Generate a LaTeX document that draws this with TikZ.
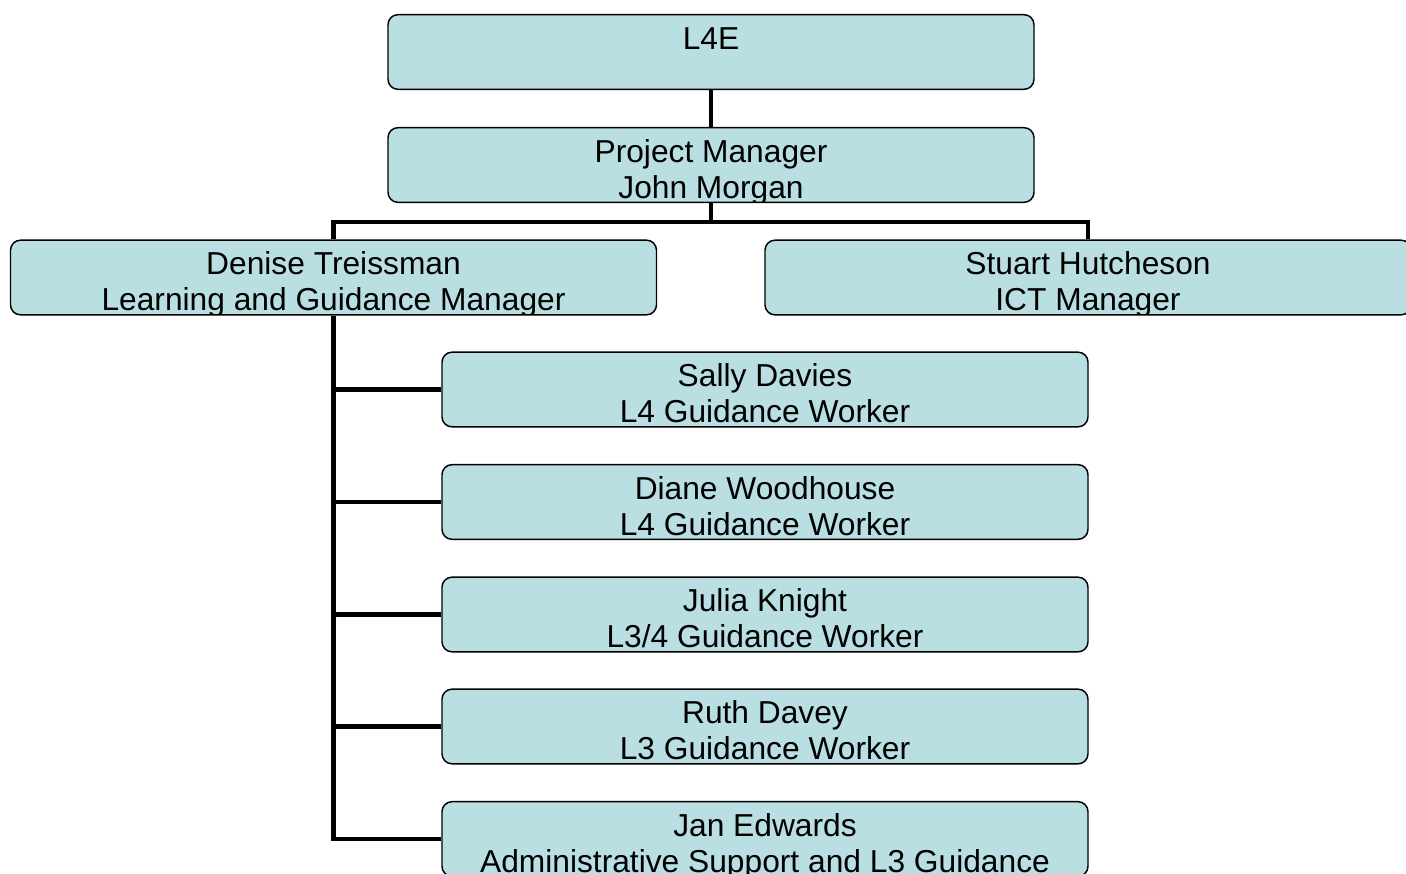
\documentclass[tikz,border=0pt]{standalone}
\usepackage{fontspec}
\setmainfont{Liberation Sans}
\usepackage{tikz}

\definecolor{boxblue}{RGB}{186,223,227}
\tikzset{
	orgbox/.style={shape=rectangle, rounded corners=7.5pt, draw=black, line width=1.1pt, fill=boxblue,
		minimum width=484.5pt, minimum height=56pt, inner sep=0pt},
	orglabel/.style={anchor=base, inner sep=0pt, font=\fontsize{23.8pt}{27pt}\selectfont},
	orgtext/.style 2 args={path picture={
		\node[orglabel] at ([yshift=-25.9pt]path picture bounding box.north) {#1};
		\node[orglabel] at ([yshift=-52.9pt]path picture bounding box.north) {#2};}},
	link/.style={line width=3.4pt}
}

\begin{document}
\begin{tikzpicture}[x=0.75pt, y=-0.75pt]
	\path[use as bounding box, fill=white] (0,0) rectangle (1406,874);
	\clip (0,0) rectangle (1406,874);

	\node[orgbox, orgtext={L4E}{}] (l4e) at (711, 52) {};
	\node[orgbox, orgtext={Project Manager}{John Morgan}] (pm) at (711, 165) {};
	\node[orgbox, orgtext={Denise Treissman}{Learning and Guidance Manager}] (denise) at (333.5, 277.5) {};
	\node[orgbox, orgtext={Stuart Hutcheson}{ICT Manager}] (stuart) at (1088, 277.5) {};
	\node[orgbox, orgtext={Sally Davies}{L4 Guidance Worker}] (sally) at (765, 389.5) {};
	\node[orgbox, orgtext={Diane Woodhouse}{L4 Guidance Worker}] (diane) at (765, 502) {};
	\node[orgbox, orgtext={Julia Knight}{L3/4 Guidance Worker}] (julia) at (765, 614.5) {};
	\node[orgbox, orgtext={Ruth Davey}{L3 Guidance Worker}] (ruth) at (765, 726.5) {};
	\node[orgbox, orgtext={Jan Edwards}{Administrative Support and L3 Guidance}] (jan) at (765, 839) {};

	\draw[link] (l4e) -- (pm);
	\draw[link] (pm.south) -- ++(0, 19) -| (denise.north);
	\draw[link] (pm.south) -- ++(0, 19) -| (stuart.north);
	\draw[link] (denise.south) |- (sally.west);
	\draw[link] (denise.south) |- (diane.west);
	\draw[link] (denise.south) |- (julia.west);
	\draw[link] (denise.south) |- (ruth.west);
	\draw[link] (denise.south) |- (jan.west);
\end{tikzpicture}
\end{document}
